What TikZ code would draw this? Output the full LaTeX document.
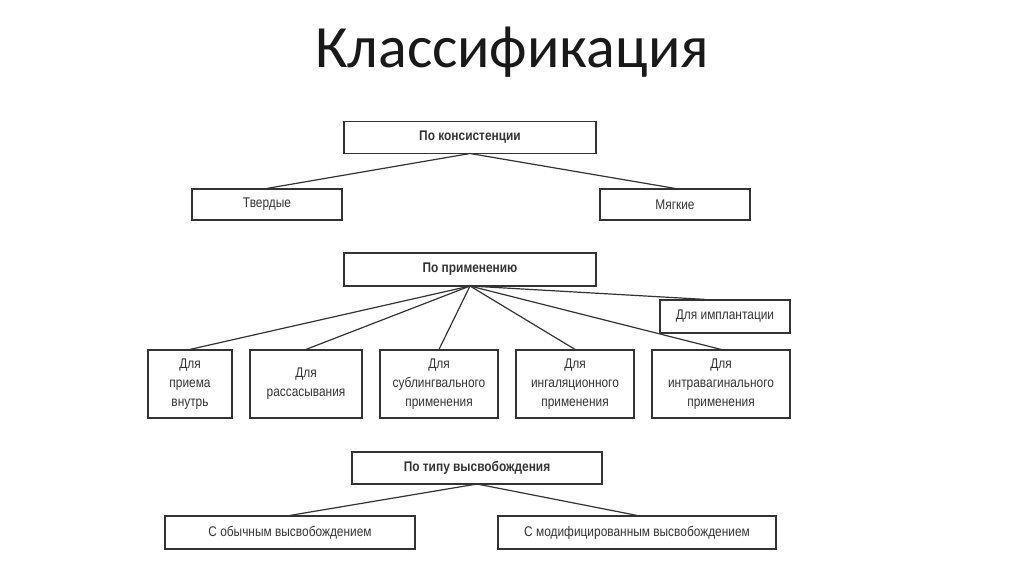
\documentclass[tikz,border=0pt]{standalone}
\usepackage{fontspec}
\setmainfont{Liberation Sans}[FakeStretch=0.85]
\newfontfamily\titlefont{Carlito}
\begin{document}
\begin{tikzpicture}[x=1pt,y=-1pt,
  box/.style={draw=black!80,line width=1.2pt,inner sep=0pt,align=center,font=\fontsize{14}{19}\selectfont,text=black!80},
  hb/.style={box,font=\fontsize{14}{19}\selectfont\bfseries},
  ln/.style={draw=black!80,line width=1.2pt}]
\useasboundingbox (0,0) rectangle (1024,574);
\node[font=\titlefont\fontsize{60}{64}\selectfont,text=black!90] (title) at (512,52) {Классификация};
\node[hb,minimum width=252pt,minimum height=32pt] (k) at (470,137.5) {По консистенции};
\node[box,minimum width=150pt,minimum height=31pt] (t) at (267,204.5) {Твердые};
\node[box,minimum width=150pt,minimum height=31pt] (m) at (675,204.5) {Мягкие};
\coordinate (kc) at (470,153.5);
\draw[ln] (kc) -- (t.north);
\draw[ln] (kc) -- (m.north);
\node[hb,minimum width=252pt,minimum height=33pt] (p) at (470,269.5) {По применению};
\coordinate (pc) at (470,286);
\node[box,minimum width=130pt,minimum height=33pt] (imp) at (725,316.5) {Для имплантации};
\node[box,minimum width=84pt,minimum height=68pt] (b1) at (190,384) {Для\\приема\\внутрь};
\node[box,minimum width=112pt,minimum height=68pt] (b2) at (306,384) {Для\\рассасывания};
\node[box,minimum width=118pt,minimum height=68pt] (b3) at (439,384) {Для\\сублингвального\\применения};
\node[box,minimum width=118pt,minimum height=68pt] (b4) at (575,384) {Для\\ингаляционного\\применения};
\node[box,minimum width=138pt,minimum height=68pt] (b5) at (721,384) {Для\\интравагинального\\применения};
\draw[ln] (pc) -- (b1.north);
\draw[ln] (pc) -- (b2.north);
\draw[ln] (pc) -- (b3.north);
\draw[ln] (pc) -- (b4.north);
\draw[ln] (pc) -- (b5.north);
\draw[ln] (pc) -- ([xshift=-20pt]imp.north);
\node[hb,minimum width=250pt,minimum height=32pt] (v) at (477,468) {По типу высвобождения};
\coordinate (vc) at (477,484);
\node[box,minimum width=250pt,minimum height=33pt] (o) at (290,532.5) {С обычным высвобождением};
\node[box,minimum width=278pt,minimum height=33pt] (md) at (637,532.5) {С модифицированным высвобождением};
\draw[ln] (vc) -- (o.north);
\draw[ln] (vc) -- (md.north);
\end{tikzpicture}
\end{document}
